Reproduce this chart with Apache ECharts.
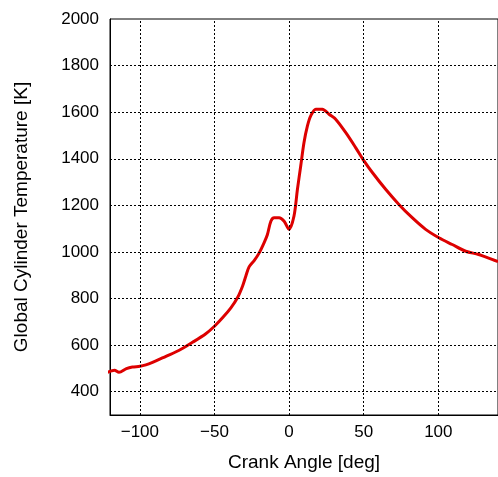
<!DOCTYPE html>
<html><head><meta charset="utf-8">
<script src="https://cdn.jsdelivr.net/npm/echarts@6/dist/echarts.min.js"></script>
<style>html,body{margin:0;padding:0;background:#fff}#c{width:498px;height:477px}</style>
</head><body><div id="c"></div>
<script>
const crankAngle = [-121.6,-117,-114,-109,-105,-100,-96,-91.5,-82.5,-73.6,-64.7,-55.8,-50,-44.6,-39,-34.6,-31.2,-29,-26.8,-23.4,-20,-16.7,-14.5,-12.2,-10,-6.7,-3.3,0,3.3,5.6,7.8,10,12.3,14.5,17.9,22.3,26.8,31.2,37.9,44.6,50.2,55.8,64.7,73.6,82.5,91.5,100.4,109.3,118.3,127,136,140];
const temperature = [483,492,483,499,506,509,515,526,552,578,612,649,681,717,760,803,853,896,936,963,996,1040,1075,1132,1147,1147,1132,1097,1154,1269,1369,1470,1541,1584,1613,1613,1591,1570,1513,1448,1391,1341,1269,1204,1147,1097,1061,1032,1003,989,968,958];
const xTicks = [-100,-50,0,50,100];
const yTicks = [400,600,800,1000,1200,1400,1600,1800,2000];

const data = crankAngle.map((x,i)=>[x,temperature[i]]);
const font = 'Liberation Sans, Arial, sans-serif';
const fmtMinus = v => String(v).replace('-', '\u2212');
const chart = echarts.init(document.getElementById('c'));
chart.setOption({
  animation:false,
  grid:{left:110,right:-1,top:19,bottom:62,show:true,borderColor:'#000',borderWidth:1},
  xAxis:{type:'value',min:-120,max:140,
    name:'Crank Angle [deg]',nameLocation:'middle',nameGap:38,
    nameTextStyle:{fontFamily:font,fontSize:19,color:'#000'},
    axisLine:{show:true,onZero:false,lineStyle:{color:'#000',width:1}},
    axisTick:{show:false,customValues:xTicks},
    axisLabel:{customValues:xTicks,formatter:fmtMinus,fontFamily:font,fontSize:17,color:'#000',margin:9},
    splitLine:{show:false}},
  yAxis:{type:'value',min:300,max:2000,
    name:'Global Cylinder Temperature [K]',nameLocation:'middle',nameGap:79,
    nameTextStyle:{fontFamily:font,fontSize:19,color:'#000'},
    axisLine:{show:true,onZero:false,lineStyle:{color:'#000',width:1}},
    axisTick:{show:false,customValues:yTicks},
    axisLabel:{customValues:yTicks,formatter:v=>String(v),fontFamily:font,fontSize:17,color:'#000',margin:11},
    splitLine:{show:false}},
  series:[
    {type:'line',data:data,showSymbol:false,smooth:0.3,clip:true,
     lineStyle:{color:'#dd0000',width:3},
     markLine:{silent:true,symbol:'none',label:{show:false},
       lineStyle:{color:'#000',type:[2,2],width:1},
       data:[...xTicks.map(v=>({xAxis:v})),...yTicks.filter(v=>v<2000).map(v=>({yAxis:v}))]},
     z:3}
  ]
});
</script></body></html>
